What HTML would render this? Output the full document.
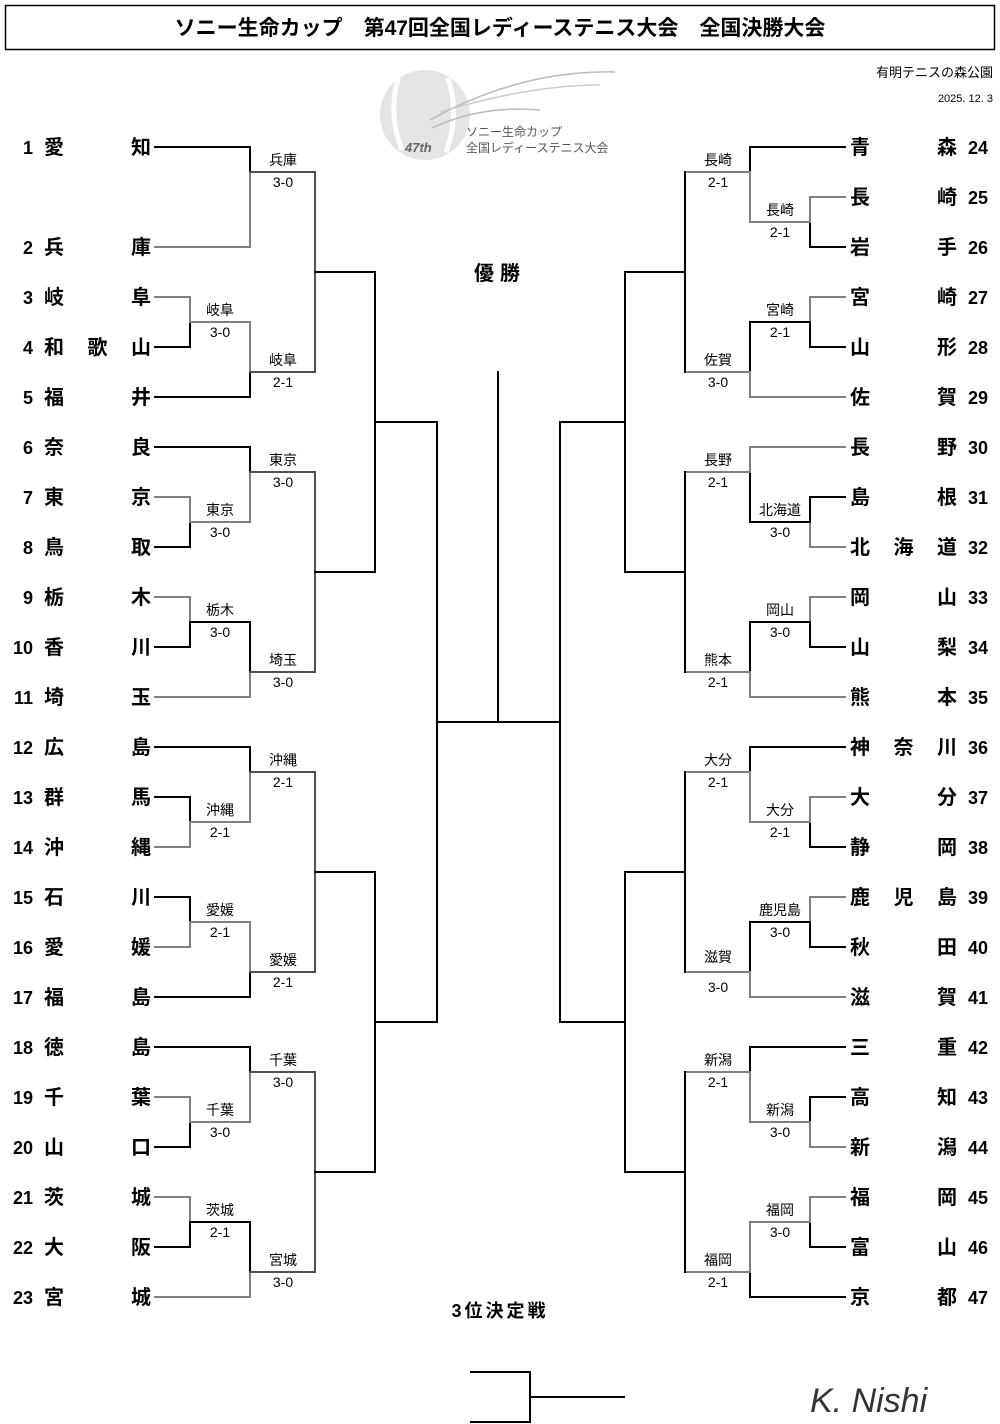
<!DOCTYPE html>
<html><head><meta charset="utf-8">
<style>
html,body{margin:0;padding:0;background:#fff;}
svg{display:block;}
text{font-family:"Liberation Sans","Noto Sans CJK JP",sans-serif;}
</style></head>
<body>
<svg id="s" width="1000" height="1424" viewBox="0 0 1000 1424" xmlns="http://www.w3.org/2000/svg">
<rect x="5.5" y="5.5" width="989" height="44" fill="none" stroke="#000" stroke-width="1.5"/>
<text x="500" y="35" font-size="21" font-weight="bold" text-anchor="middle">ソニー生命カップ　第47回全国レディーステニス大会　全国決勝大会</text>
<text x="993" y="77" font-size="13" text-anchor="end">有明テニスの森公園</text>
<text x="993" y="102" font-size="11" text-anchor="end">2025. 12. 3</text>
<!-- logo -->
<circle cx="425" cy="115" r="45" fill="#e4e4e4"/>
<path d="M398 78 Q388 115 402 150" stroke="#fff" stroke-width="5" fill="none"/>
<path d="M448 78 Q460 115 446 152" stroke="#fff" stroke-width="5" fill="none"/>
<path d="M430 120 Q520 70 615 72" stroke="#bbb" stroke-width="1.5" fill="none"/>
<path d="M440 112 Q530 85 600 85" stroke="#ccc" stroke-width="1.5" fill="none"/>
<path d="M432 128 Q480 105 540 110" stroke="#bbb" stroke-width="1.5" fill="none"/>
<text x="405" y="152" font-size="13" font-style="italic" font-weight="bold" fill="#666" font-family="Liberation Serif,serif">47th</text>
<text x="466" y="136" font-size="12" fill="#555">ソニー生命カップ</text>
<text x="466" y="152" font-size="12" fill="#555">全国レディーステニス大会</text>
<text x="500" y="280" font-size="20" font-weight="bold" text-anchor="middle" letter-spacing="6">優勝</text>
<text x="500" y="1317" font-size="18" font-weight="bold" text-anchor="middle" letter-spacing="3">3位決定戦</text>
<g stroke="#000" stroke-width="2" fill="none">
<path d="M470 1372H530V1422H470M530 1397H625"/>
</g>
<text x="810" y="1412" font-size="34" font-style="italic" font-family="Liberation Serif,serif" fill="#333">K. Nishi</text>
<g id="g"></g>
</svg>
<script>
var g=document.getElementById('g'),h='';
var B='#000',G='#808080';
function ln(x1,y1,x2,y2,c){h+='<line x1="'+x1+'" y1="'+y1+'" x2="'+x2+'" y2="'+y2+'" stroke="'+c+'" stroke-width="2" stroke-linecap="square"/>';}
function tx(x,y,s,sz,anc,w){h+='<text x="'+x+'" y="'+y+'" font-size="'+sz+'" text-anchor="'+(anc||'start')+'"'+(w?' font-weight="bold"':'')+'>'+s+'</text>';}
function m(X,a,b,o,lab,sc,lx,up,dn){
 [a,b].forEach(function(e){ln(e[1],e[0],X,e[0],e[2]);ln(X,e[0],X,o,e[2]);});
 if(lab){tx(lx,o-(up||7),lab,14,'middle');tx(lx,o+(dn||15),sc,14,'middle');}
}
var L=['愛知','兵庫','岐阜','和歌山','福井','奈良','東京','鳥取','栃木','香川','埼玉','広島','群馬','沖縄','石川','愛媛','福島','徳島','千葉','山口','茨城','大阪','宮城'];
var R=['青森','長崎','岩手','宮崎','山形','佐賀','長野','島根','北海道','岡山','山梨','熊本','神奈川','大分','静岡','鹿児島','秋田','滋賀','三重','高知','新潟','福岡','富山','京都'];
function Y(i){return i==0?147:147+50*(i+1);}
L.forEach(function(n,i){var y=Y(i)+7;tx(33,y,i+1,18,'end',1);
 var c=n.split('');c.forEach(function(ch,k){var x=44+(c.length==1?0:k*(107-20)/(c.length-1));tx(x,y,ch,20,'start',1);});});
R.forEach(function(n,i){var y=147+50*i+7;tx(968,y,i+24,18,'start',1);
 var c=n.split('');c.forEach(function(ch,k){var x=850+(c.length==1?0:k*(107-20)/(c.length-1));tx(x,y,ch,20,'start',1);});});
var S=155,D='#505050';
m(250,[147,S,B],[247,S,G],172,'兵庫','3-0',283);
m(190,[297,S,G],[347,S,B],322,'岐阜','3-0',220);
m(250,[322,190,G],[397,S,B],372,'岐阜','2-1',283);
m(190,[497,S,G],[547,S,B],522,'東京','3-0',220);
m(250,[447,S,B],[522,190,G],472,'東京','3-0',283);
m(190,[597,S,G],[647,S,B],622,'栃木','3-0',220);
m(250,[622,190,B],[697,S,G],672,'埼玉','3-0',283);
m(190,[797,S,B],[847,S,G],822,'沖縄','2-1',220);
m(250,[747,S,B],[822,190,G],772,'沖縄','2-1',283);
m(190,[897,S,B],[947,S,G],922,'愛媛','2-1',220);
m(250,[922,190,G],[997,S,B],972,'愛媛','2-1',283);
m(190,[1097,S,G],[1147,S,B],1122,'千葉','3-0',220);
m(250,[1047,S,B],[1122,190,G],1072,'千葉','3-0',283);
m(190,[1197,S,G],[1247,S,B],1222,'茨城','2-1',220);
m(250,[1222,190,B],[1297,S,G],1272,'宮城','3-0',283);
m(315,[172,250,D],[372,250,D],272);
m(315,[472,250,D],[672,250,D],572);
m(315,[772,250,D],[972,250,D],872);
m(315,[1072,250,D],[1272,250,D],1172);
m(375,[272,315,B],[572,315,B],422);
m(375,[872,315,B],[1172,315,B],1022);
m(437,[422,375,B],[1022,375,B],722);
ln(437,722,560,722,B);ln(498,372,498,722,B);
var E=845;
m(810,[197,E,G],[247,E,B],222,'長崎','2-1',780);
m(750,[147,E,B],[222,810,G],172,'長崎','2-1',718);
m(810,[297,E,G],[347,E,B],322,'宮崎','2-1',780);
m(750,[322,810,B],[397,E,G],372,'佐賀','3-0',718);
m(810,[497,E,B],[547,E,G],522,'北海道','3-0',780);
m(750,[447,E,G],[522,810,B],472,'長野','2-1',718);
m(810,[597,E,G],[647,E,B],622,'岡山','3-0',780);
m(750,[622,810,B],[697,E,G],672,'熊本','2-1',718);
m(810,[797,E,G],[847,E,B],822,'大分','2-1',780);
m(750,[747,E,B],[822,810,G],772,'大分','2-1',718);
m(810,[897,E,G],[947,E,B],922,'鹿児島','3-0',780);
m(750,[922,810,B],[997,E,G],972,'滋賀','3-0',718,10,20);
m(810,[1097,E,B],[1147,E,G],1122,'新潟','3-0',780);
m(750,[1047,E,B],[1122,810,G],1072,'新潟','2-1',718);
m(810,[1197,E,G],[1247,E,B],1222,'福岡','3-0',780);
m(750,[1222,810,G],[1297,E,B],1272,'福岡','2-1',718);
m(685,[172,750,G],[372,750,G],272);
m(685,[472,750,G],[672,750,G],572);
m(685,[772,750,G],[972,750,G],872);
m(685,[1072,750,G],[1272,750,G],1172);
ln(685,172,685,372,B);ln(685,472,685,672,B);ln(685,772,685,972,B);ln(685,1072,685,1272,B);
m(625,[272,685,B],[572,685,B],422);
m(625,[872,685,B],[1172,685,B],1022);
m(560,[422,625,B],[1022,625,B],722);
g.innerHTML=h;
</script>
</body></html>
